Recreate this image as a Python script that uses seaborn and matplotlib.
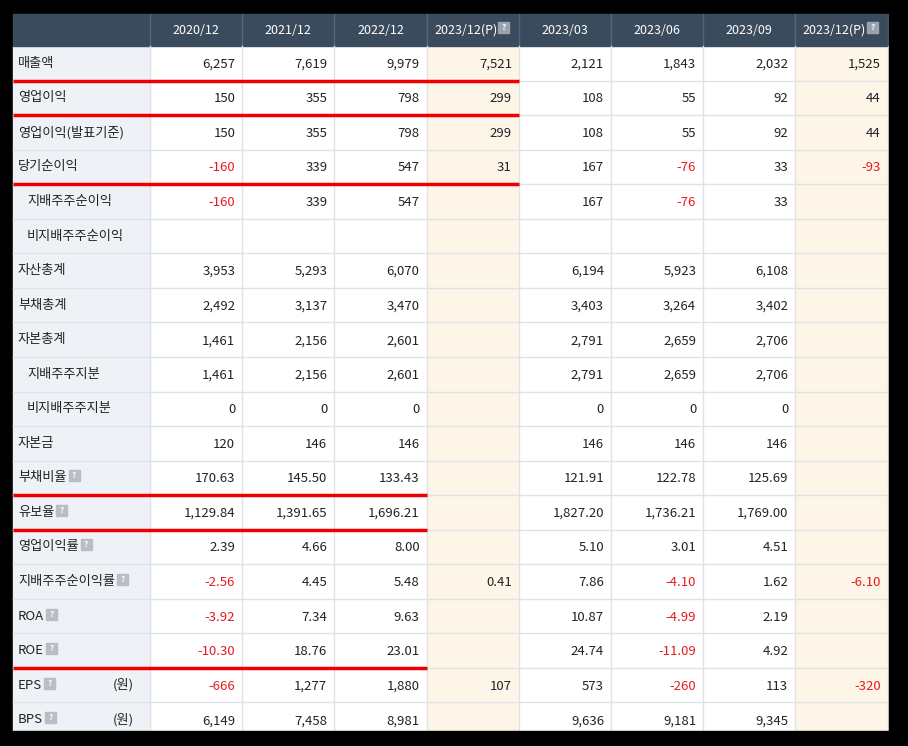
import matplotlib
matplotlib.use("Agg")
import matplotlib.pyplot as plt
import seaborn as sns
import numpy as np
from matplotlib.patches import Rectangle
from matplotlib import font_manager

avail = {f.name for f in font_manager.fontManager.ttflist}
cjk = next((n for n in ["Noto Sans CJK KR", "Noto Sans CJK JP", "Noto Sans CJK SC", "Noto Sans CJK TC"] if n in avail), "DejaVu Sans")
plt.rcParams["font.family"] = [cjk, "DejaVu Sans"]

columns = ["2020/12", "2021/12", "2022/12", "2023/12(P)", "2023/03", "2023/06", "2023/09", "2023/12(P)"]
labels = ["매출액", "영업이익", "영업이익(발표기준)", "당기순이익", "지배주주순이익", "비지배주주순이익",
          "자산총계", "부채총계", "자본총계", "지배주주지분", "비지배주주지분", "자본금",
          "부채비율", "유보율", "영업이익률", "지배주주순이익률", "ROA", "ROE", "EPS", "BPS"]
indented = [4, 5, 9, 10]
help_rows = [12, 13, 14, 15, 16, 17, 18, 19]
unit_rows = [18, 19]
values = [
    ["6,257", "7,619", "9,979", "7,521", "2,121", "1,843", "2,032", "1,525"],
    ["150", "355", "798", "299", "108", "55", "92", "44"],
    ["150", "355", "798", "299", "108", "55", "92", "44"],
    ["-160", "339", "547", "31", "167", "-76", "33", "-93"],
    ["-160", "339", "547", "", "167", "-76", "33", ""],
    ["", "", "", "", "", "", "", ""],
    ["3,953", "5,293", "6,070", "", "6,194", "5,923", "6,108", ""],
    ["2,492", "3,137", "3,470", "", "3,403", "3,264", "3,402", ""],
    ["1,461", "2,156", "2,601", "", "2,791", "2,659", "2,706", ""],
    ["1,461", "2,156", "2,601", "", "2,791", "2,659", "2,706", ""],
    ["0", "0", "0", "", "0", "0", "0", ""],
    ["120", "146", "146", "", "146", "146", "146", ""],
    ["170.63", "145.50", "133.43", "", "121.91", "122.78", "125.69", ""],
    ["1,129.84", "1,391.65", "1,696.21", "", "1,827.20", "1,736.21", "1,769.00", ""],
    ["2.39", "4.66", "8.00", "", "5.10", "3.01", "4.51", ""],
    ["-2.56", "4.45", "5.48", "0.41", "7.86", "-4.10", "1.62", "-6.10"],
    ["-3.92", "7.34", "9.63", "", "10.87", "-4.99", "2.19", ""],
    ["-10.30", "18.76", "23.01", "", "24.74", "-11.09", "4.92", ""],
    ["-666", "1,277", "1,880", "107", "573", "-260", "113", "-320"],
    ["6,149", "7,458", "8,981", "", "9,636", "9,181", "9,345", ""],
]
underline_rows = [0, 1, 3, 12, 13, 17]
underline_ncols = [4, 4, 4, 3, 3, 3]

W, H = 908, 746
fig = plt.figure(figsize=(W / 100, H / 100), dpi=100, facecolor="black")

x0, lw, cw = 13, 137, 92.2
y_head, hh, rh = 14, 32, 34.55
nrows = len(labels)
x_data = x0 + lw
x_end = x_data + cw * len(columns)
y_data = y_head + hh
y_bottom = 731

# cell backgrounds via seaborn heatmap
bg = np.zeros((nrows, len(columns)))
bg[:, 3] = 1; bg[:, 7] = 1
hax = fig.add_axes([x_data / W, 1 - y_bottom / H, (x_end - x_data) / W, (y_bottom - y_data) / H])
sns.heatmap(bg, ax=hax, cmap=matplotlib.colors.ListedColormap(["#ffffff", "#fdf5e8"]), cbar=False,
            linewidths=0, xticklabels=False, yticklabels=False, vmin=0, vmax=1)
hax.set_ylim((y_bottom - y_data) / rh, 0)
hax.axis("off")

ax = fig.add_axes([0, 0, 1, 1])
ax.set_xlim(0, W); ax.set_ylim(H, 0); ax.axis("off")
ax.patch.set_alpha(0)

ax.add_patch(Rectangle((x0, y_data), lw, y_bottom - y_data, color="#eef2f7", zorder=1))
ax.add_patch(Rectangle((x0, y_head), x_end - x0, hh, color="#3b4b5e", zorder=1))
for c in range(len(columns) + 1):
    x = x_data + c * cw
    ax.plot([x, x], [y_head, y_data], color="#55667a", lw=1, zorder=2)
    ax.plot([x, x], [y_data, y_bottom], color="#dfe3e8", lw=1, zorder=2)
for r in range(1, nrows):
    y = y_data + r * rh
    ax.plot([x0, x_end], [y, y], color="#dfe3e8", lw=1, zorder=2)

def help_icon(x, yc, dark=False):
    ax.add_patch(Rectangle((x, yc - 5.5), 11, 11, color="#9aa3ad" if dark else "#b9bec4", zorder=3))
    ax.text(x + 5.5, yc, "?", color="white", fontsize=6, ha="center", va="center", zorder=4, fontweight="bold")

renderer = fig.canvas.get_renderer()
def right_px(t):
    bb = t.get_window_extent(renderer=renderer)
    return bb.x1  # pixel x (same as data x since xlim 0..W)

for c, name in enumerate(columns):
    xc = x_data + (c + 0.5) * cw
    yc = y_head + hh / 2
    if "(P)" in name:
        t = ax.text(xc - 7, yc, name, color="white", fontsize=9, ha="center", va="center", zorder=3)
        help_icon(right_px(t) + 1, yc - 3, dark=True)
    else:
        ax.text(xc, yc, name, color="white", fontsize=9, ha="center", va="center", zorder=3)

for r, lab in enumerate(labels):
    yc = y_data + (r + 0.5) * rh
    xt = x0 + (14 if r in indented else 5)
    t = ax.text(xt, yc, lab, color="#222222", fontsize=9.5, ha="left", va="center", zorder=3)
    if r in help_rows:
        help_icon(right_px(t) + 2, yc - 2)
    if r in unit_rows:
        ax.text(x0 + 100, yc, "(원)", color="#222222", fontsize=9.5, ha="left", va="center", zorder=3)
    for c, v in enumerate(values[r]):
        if v:
            col = "#e8191d" if v.startswith("-") else "#222222"
            ax.text(x_data + (c + 1) * cw - 7, yc + 1, v, color=col, fontsize=9.5, ha="right", va="center", zorder=3)

for r, n in zip(underline_rows, underline_ncols):
    y = y_data + (r + 1) * rh
    ax.plot([x0, x_data + n * cw], [y, y], color="#ee0000", lw=2.5, zorder=4, solid_capstyle="butt")

ax.add_patch(Rectangle((0, y_bottom), W, H - y_bottom, color="black", zorder=5))
ax.add_patch(Rectangle((x_end + 1, 0), W, H, color="black", zorder=5))

fig.savefig("out.png", dpi=100, facecolor="black")
